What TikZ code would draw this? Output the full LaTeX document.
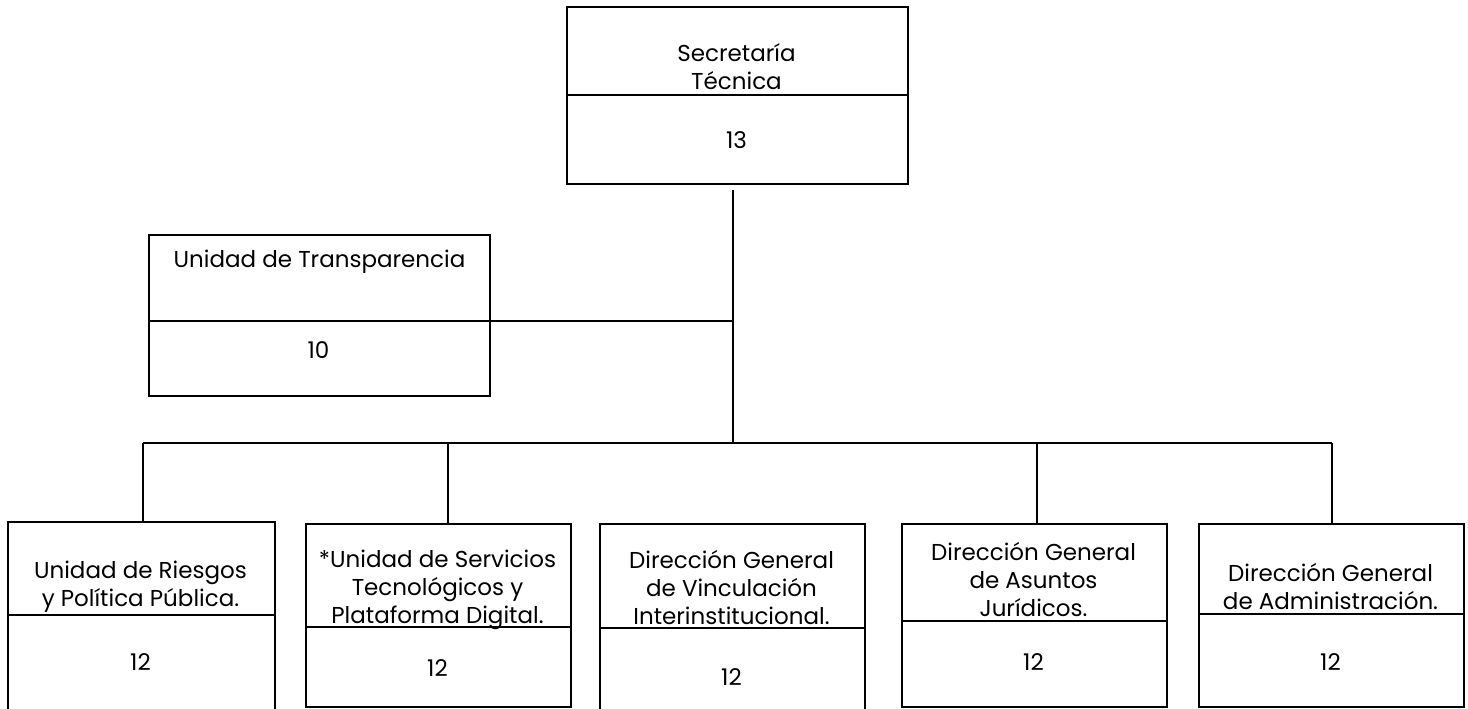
\documentclass[tikz,border=0pt]{standalone}
\usepackage{fontspec}
\setmainfont{Poppins}
\begin{document}
\begin{tikzpicture}[x=0.5pt,y=-0.5pt,
  box/.style={draw, line width=1pt, rectangle, anchor=north west, inner sep=0pt},
  lbl/.style={align=center, font=\fontsize{11.5}{14}\selectfont, inner sep=0pt},
  num/.style={font=\fontsize{11.5}{14}\selectfont, inner sep=0pt},
  conn/.style={line width=0.9pt}]
\useasboundingbox (0,0) rectangle (1468,708);
\clip (0,0) rectangle (1468,708);

% Secretaria Tecnica
\node[box, minimum width=341*0.5pt, minimum height=177*0.5pt] (st) at (566,6) {};
\node[lbl] (stt) at (736.5,67) {Secretaría\\Técnica};
\node[num] (stn) at (736.5,140) {13};
\draw[conn] (st.west |- 0,95) -- (st.east |- 0,95);

% Unidad de Transparencia
\node[box, minimum width=341*0.5pt, minimum height=161*0.5pt] (ut) at (148,234) {};
\node[lbl] (utt) at (319.5,262) {Unidad de Transparencia};
\node[num] (utn) at (318.5,350) {10};
\draw[conn] (ut.west |- 0,321) -- (ut.east |- 0,321);

% bottom boxes
\node[box, minimum width=267*0.5pt, minimum height=209*0.5pt] (b1) at (7,521) {};
\node[lbl] (b1t) at (140.5,587) {Unidad de Riesgos\\y Política Pública.};
\node[num] (b1n) at (140.5,662) {12};
\draw[conn] (b1.west |- 0,615) -- (b1.east |- 0,615);

\node[box, minimum width=265*0.5pt, minimum height=183*0.5pt] (b2) at (305,523) {};
\node[lbl] (b2t) at (437.5,590) {*Unidad de Servicios\\Tecnológicos y\\Plataforma Digital.};
\node[num] (b2n) at (437.5,668) {12};
\draw[conn] (b2.west |- 0,627) -- (b2.east |- 0,627);

\node[box, minimum width=265*0.5pt, minimum height=209*0.5pt] (b3) at (599,523) {};
\node[lbl] (b3t) at (731.5,588) {Dirección General\\de Vinculación\\Interinstitucional.};
\node[num] (b3n) at (731.5,677) {12};
\draw[conn] (b3.west |- 0,628) -- (b3.east |- 0,628);

\node[box, minimum width=265*0.5pt, minimum height=183*0.5pt] (b4) at (901,523) {};
\node[lbl] (b4t) at (1033.5,580) {Dirección General\\de Asuntos\\Jurídicos.};
\node[num] (b4n) at (1033.5,662) {12};
\draw[conn] (b4.west |- 0,621) -- (b4.east |- 0,621);

\node[box, minimum width=265*0.5pt, minimum height=183*0.5pt] (b5) at (1198,523) {};
\node[lbl] (b5t) at (1330.5,587) {Dirección General\\de Administración.};
\node[num] (b5n) at (1330.5,662) {12};
\draw[conn] (b5.west |- 0,614) -- (b5.east |- 0,614);

% connectors
\coordinate (trunktop) at (733,190);
\coordinate (trunk) at (733,443);
\coordinate (utjoin) at (733,321);
\coordinate (bus1) at (143,443);
\coordinate (bus2) at (448,443);
\coordinate (bus4) at (1037,443);
\coordinate (bus5) at (1332,443);

\draw[conn] (trunktop) -- (trunk);
\draw[conn] (ut.east |- utjoin) -- (utjoin);
\draw[conn] (bus1) -- (bus5);
\draw[conn] (bus1) -- (bus1 |- b1.north);
\draw[conn] (bus2) -- (bus2 |- b2.north);
\draw[conn] (bus4) -- (bus4 |- b4.north);
\draw[conn] (bus5) -- (bus5 |- b5.north);
\end{tikzpicture}
\end{document}
